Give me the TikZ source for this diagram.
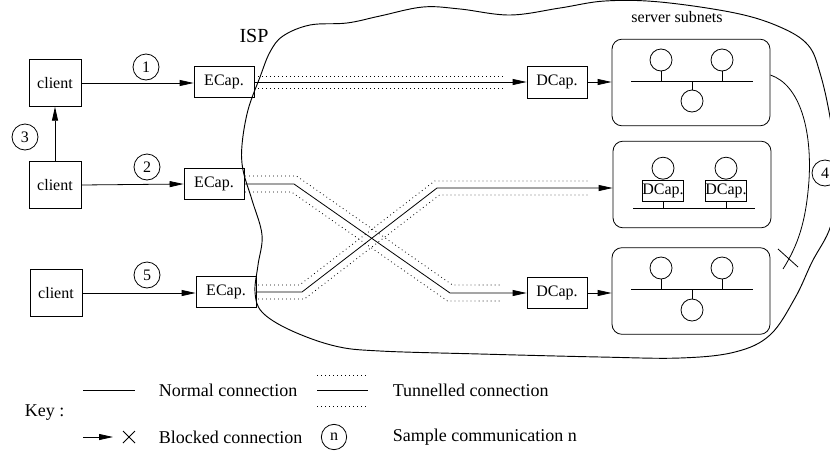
\documentclass[tikz,border=0pt]{standalone}
\usepackage{fontspec}
\setmainfont{Liberation Serif}
\usetikzlibrary{arrows.meta,calc}
\begin{document}
\begin{tikzpicture}[x=0.75pt,y=-0.75pt,
  line width=0.6pt,
  every node/.style={font=\fontsize{12}{14}\selectfont},
  capbox/.style={draw, inner sep=0pt, minimum width=45pt, minimum height=23pt},
  clientbox/.style={draw, inner sep=0pt, minimum width=39pt, minimum height=35pt},
  smallcap/.style={draw, inner sep=0pt, minimum width=30pt, minimum height=15.75pt, font=\fontsize{12}{13}\selectfont},
  num/.style={draw, circle, inner sep=0pt, minimum size=19.5pt},
  host/.style={draw, circle, inner sep=0pt, minimum size=16.5pt},
  subnet/.style={draw, rounded corners=7.5pt, inner sep=0pt, minimum width=118.5pt, minimum height=65pt},
  arr/.style={-{Triangle[length=10.5pt,width=4.5pt]}},
  tun/.style={dash pattern=on 0.6pt off 2.4pt},
  keytext/.style={anchor=west, font=\fontsize{13.5}{15}\selectfont},
]
\useasboundingbox (0,0) rectangle (830,450);
\clip (0,0) rectangle (830,450);

% ISP cloud
\draw[line width=0.7pt] plot[smooth cycle, tension=0.6] coordinates {
 (283,36) (310,25) (347,23) (380,16) (423,7) (460,9) (510,15) (560,8) (605,1)
 (660,2) (735,13) (780,27) (808,45) (820,73) (830,117) (838,175) (831,225)
 (812,262) (795,298) (770,335) (735,352) (680,358) (600,357) (480,354)
 (380,351) (335,346) (290,330) (262,312) (255,292) (258,265) (262,235)
 (252,200) (243,170) (242,145) (248,110) (260,77) (270,52)};
\node[font=\fontsize{15}{17}\selectfont] (isp) at (254,36) {ISP};
\node (srv) at (677,17) {server subnets};

% clients
\node[clientbox] (c1) at (55,83) {client};
\node[clientbox] (c2) at (55,185) {client};
\node[clientbox] (c3) at (56,293) {client};

% capsulators
\node[capbox] (e1) at (224,82) {ECap.};
\node[capbox] (e2) at (214,184) {ECap.};
\node[capbox] (e3) at (226,292) {ECap.};
\node[capbox, minimum height=24pt] (d1) at (557,82) {DCap.};
\node[capbox] (d2) at (557,293) {DCap.};

% number circles
\node[num] (n1) at (146,67) {1};
\node[num] (n2) at (147,167) {2};
\node[num] (n3) at (25,137) {3};
\node[num] (n5) at (147,275) {5};
\node[num] (n4) at (825,173) {4};

% client connections
\draw[arr] (c1.east) -- (c1.east -| e1.west);
\draw[arr] (c2.east) -- (e2.west);
\draw[arr] (c3.east) -- (c3.east -| e3.west);
\draw[arr] (c2.north) -- (c1.south);

% subnets
\node[subnet] (s1) at (691,82.5) {};
\node[subnet] (s2) at (692,184.5) {};
\node[subnet] (s3) at (691,291) {};

% subnet 1 internals
\coordinate (bus1l) at (631,81);
\coordinate (bus1r) at (753,81);
\draw (bus1l) -- (bus1r);
\node[host] (h11) at (661,60) {};
\node[host] (h12) at (722,60) {};
\node[host] (h13) at (692,101) {};
\draw (h11.south) -- (h11.south |- bus1l);
\draw (h12.south) -- (h12.south |- bus1l);
\draw (h13.north) -- (h13.north |- bus1l);

% subnet 3 internals
\coordinate (bus3l) at (631,289);
\coordinate (bus3r) at (753,289);
\draw (bus3l) -- (bus3r);
\node[host] (h31) at (661,268) {};
\node[host] (h32) at (722,268) {};
\node[host] (h33) at (692,310) {};
\draw (h31.south) -- (h31.south |- bus3l);
\draw (h32.south) -- (h32.south |- bus3l);
\draw (h33.north) -- (h33.north |- bus3l);

% subnet 2 internals
\coordinate (bus2l) at (633,208);
\coordinate (bus2r) at (755,208);
\draw (bus2l) -- (bus2r);
\node[smallcap] (sd1) at (663,190.5) {DCap.};
\node[smallcap] (sd2) at (726,190.5) {DCap.};
\node[host, anchor=south] (h21) at (sd1.north) {};
\node[host, anchor=south] (h22) at (sd2.north) {};
\draw (sd1.south) -- (sd1.south |- bus2l);
\draw (sd2.south) -- (sd2.south |- bus2l);

% DCap to subnets
\draw[arr] (d1.east) -- (d1.east -| s1.west);
\draw[arr] (d2.east) -- (d2.east -| s3.west);

% tunnel 1
\draw[arr] (e1.east) -- (d1.west);
\draw[tun] (254,76) -- (504,76);
\draw[tun] (254,88) -- (504,88);

% tunnel 2 (ECap2 -> DCap2)
\coordinate (b21) at (294,184);
\coordinate (b22) at (450,293);
\draw[arr] (e2.east) -- (b21) -- (b22) -- (d2.west);
\draw[tun] (245,176) -- (296.5,176) -- (452.5,285) -- (502,285);
\draw[tun] (245,192) -- (291.5,192) -- (447.5,301) -- (502,301);

% tunnel 3 (ECap3 -> subnet 2)
\coordinate (b31) at (302,292);
\coordinate (b32) at (437,188);
\draw[arr] (e3.east) -- (b31) -- (b32) -- (b32 -| s2.west);
\draw[tun] (258,285) -- (299.6,285) -- (434.6,181) -- (590,181);
\draw[tun] (258,299) -- (304.4,299) -- (439.4,195) -- (590,195);

% blocked connection 4
\coordinate (blk) at (783,269);
\draw (s1.east |- 0,75) .. controls (800,85) and (812,130) .. (809,180)
      .. controls (806,222) and (798,245) .. (blk);
\draw (778,249) -- (798,267);

% legend
\node[keytext] (key) at (20,413) {Key :};
\coordinate (ln1) at (83,390);
\coordinate (ln2) at (135,390);
\draw (ln1) -- (ln2);
\node[keytext] (knorm) at (154,390) {Normal connection};
\coordinate (lt1) at (317,390);
\coordinate (lt2) at (368,390);
\draw (lt1) -- (lt2);
\draw[tun] (317,375) -- (368,375);
\draw[tun] (317,406) -- (368,406);
\node[keytext] (ktun) at (388,390) {Tunnelled connection};
\coordinate (la1) at (83,437);
\coordinate (la2) at (113,437);
\draw[arr] (la1) -- (la2);
\draw (123,431) -- (135,443);
\draw (123,443) -- (135,431);
\node[keytext] (kblk) at (154,437) {Blocked connection};
\node[num, minimum size=19pt] (kn) at (334,437) {n};
\node[keytext] (ksam) at (388,437) {Sample communication n};
\end{tikzpicture}
\end{document}
